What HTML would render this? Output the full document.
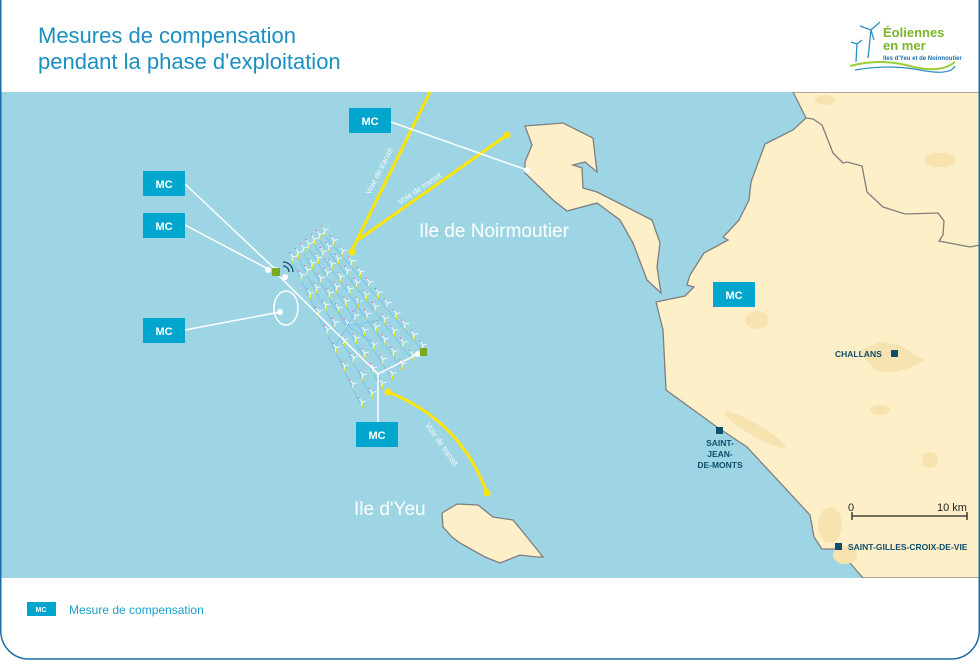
<!DOCTYPE html>
<html><head><meta charset="utf-8"><style>
body{margin:0;width:980px;height:660px;overflow:hidden;background:#fff;font-family:"Liberation Sans",sans-serif}
</style></head><body>
<svg width="980" height="660" viewBox="0 0 980 660" xmlns="http://www.w3.org/2000/svg" font-family="Liberation Sans, sans-serif">
<defs><clipPath id="c"><rect x="0" y="92" width="980" height="486"/></clipPath></defs>
<rect x="0" y="92" width="980" height="486" fill="#9dd5e5"/>
<g clip-path="url(#c)">
<path d="M793,92 L806,118 L793,130 L765,144 L751,182 L749,200 L739,220 L728,232 L723,237 L728,240 L704,253 L690,275 L687,285 L694,287 L685,296 L656,302 L663,330 L666,390 L717,427 L747,447 L810,515 L814,537 L822,549 L838,549 L863,578 L980,578 L980,92 Z" fill="#fdefc7" stroke="#7f7f7f" stroke-width="1.3"/>
<path d="M806,118 L813,119 L822,125 L833,153 L843,163 L847,162 L862,166 L867,192 L883,207 L905,214 L938,213 L944,221 L943,235 L939,241 L970,247 L980,245" fill="none" stroke="#7f7f7f" stroke-width="1.3"/>
<g fill="#f6e3b0">
<path d="M860,350 L880,342 L900,345 L915,355 L925,360 L910,368 L895,372 L880,372 L870,365 Z"/>
<ellipse cx="757" cy="320" rx="12" ry="9"/><ellipse cx="755" cy="430" rx="35" ry="6" transform="rotate(30 755 430)"/><ellipse cx="830" cy="525" rx="12" ry="18"/><ellipse cx="940" cy="160" rx="16" ry="7"/><ellipse cx="880" cy="410" rx="10" ry="5"/><ellipse cx="930" cy="460" rx="8" ry="8"/><ellipse cx="845" cy="555" rx="12" ry="9"/><ellipse cx="825" cy="100" rx="10" ry="5"/>
</g>
<path d="M525,126 L563,123 L593,138 L597,172 L585,162 L573,165 L582,168 L583,188 L597,192 L652,220 L660,243 L657,267 L661,293 L647,280 L633,243 L620,220 L597,203 L567,211 L553,200 L525,173 L525,162 L532,145 Z" fill="#fdefc7" stroke="#7f7f7f" stroke-width="1.3"/>
<path d="M442,513 L457,504 L478,505 L493,517 L513,520 L527,537 L543,557 L537,557 L520,555 L500,563 L485,557 L460,543 L452,537 L443,527 Z" fill="#fdefc7" stroke="#7f7f7f" stroke-width="1.3"/>
</g>
<g stroke="#ffe500" stroke-width="3" fill="none">
<path d="M430,92 L352,250"/><path d="M358,240 L507,135"/>
<path d="M388,392 Q460,420 487,493"/>
</g>
<g fill="#ffe500"><circle cx="352" cy="252" r="3.5"/><circle cx="507" cy="135" r="3.5"/><circle cx="388" cy="392" r="3.5"/><circle cx="487" cy="493" r="3.5"/></g>
<g fill="#fff" font-size="8" opacity="0.9">
<text transform="translate(370,195) rotate(-63)">Voie de transit</text>
<text transform="translate(400,205) rotate(-34)">Voie de transit</text>
<text transform="translate(425,425) rotate(55)">Voie de transit</text>
</g>
<g id="farm" stroke="#6cc3e6" stroke-width="0.8" fill="none"></g>
<g stroke="#fff" stroke-width="1.5" fill="none">
<path d="M276,273 L378,374 L378,422"/><path d="M378,374 L420,353"/>
<path d="M391,122 L527,170"/><path d="M185,184 L276,270"/><path d="M185,225 L270,270"/><path d="M185,330 L280,312"/>
<ellipse cx="286" cy="308" rx="12" ry="17"/>
</g>
<g fill="#fff"><circle cx="527" cy="170" r="3"/><circle cx="276" cy="270" r="3"/><circle cx="268" cy="270" r="3"/><circle cx="280" cy="312" r="3"/><circle cx="418" cy="354" r="3"/><circle cx="285" cy="277" r="3"/></g>
<rect x="272" y="268" width="8" height="8" fill="#7aa81f"/><rect x="420" y="348" width="7" height="8" fill="#7aa81f"/>
<path d="M283,266 a6,6 0 0 1 6,6 M283,262 a10,10 0 0 1 10,10" stroke="#1d4a6b" stroke-width="1.3" fill="none"/>
<g fill="#00a6cd">
<rect x="349" y="108" width="42" height="25"/><rect x="143" y="171" width="42" height="25"/><rect x="143" y="213" width="42" height="25"/><rect x="143" y="318" width="42" height="25"/><rect x="713" y="282" width="42" height="25"/><rect x="356" y="422" width="42" height="25"/>
</g>
<g fill="#fff" font-size="11" font-weight="bold" text-anchor="middle">
<text x="370" y="125">MC</text><text x="164" y="188">MC</text><text x="164" y="230">MC</text><text x="164" y="335">MC</text><text x="734" y="299">MC</text><text x="377" y="439">MC</text>
</g>
<g fill="#fff" font-size="19">
<text x="419" y="237">Ile de Noirmoutier</text><text x="354" y="515">Ile d'Yeu</text>
</g>
<g fill="#0e4d6c"><rect x="891" y="350" width="7" height="7"/><rect x="716" y="427" width="7" height="7"/><rect x="835" y="543" width="7" height="7"/></g>
<g fill="#0e4d6c" font-size="8.5" font-weight="bold">
<text x="835" y="357">CHALLANS</text>
<text x="720" y="446" text-anchor="middle">SAINT-</text><text x="720" y="457" text-anchor="middle">JEAN-</text><text x="720" y="468" text-anchor="middle">DE-MONTS</text>
<text x="848" y="550">SAINT-GILLES-CROIX-DE-VIE</text>
</g>
<g stroke="#222" stroke-width="1.3"><path d="M852,516 L967,516 M852,512 L852,520 M967,512 L967,520"/></g>
<g fill="#222" font-size="11"><text x="848" y="511">0</text><text x="937" y="511">10 km</text></g>
<g fill="#1a8fc2" font-size="22"><text x="38" y="43">Mesures de compensation</text><text x="38" y="69">pendant la phase d'exploitation</text></g>
<g stroke="#2a8fc0" stroke-width="1.3" fill="none"><path d="M868,58 L871,30 M871,30 L860,26 M871,30 L880,22 M871,30 L874,40 M856,62 L857,44 M857,44 L851,42 M857,44 L862,40"/></g>
<path d="M850,66 Q880,58 910,66 T955,62" stroke="#9ccc3a" stroke-width="2" fill="none"/>
<path d="M855,70 Q890,64 920,70 T955,66" stroke="#2a8fc0" stroke-width="1.3" fill="none"/>
<g fill="#7ab52a" font-size="13" font-weight="bold"><text x="883" y="37">Éoliennes</text><text x="883" y="50">en mer</text></g>
<text x="883" y="60" font-size="6" fill="#1a6fae" font-weight="bold">Iles d'Yeu et de Noirmoutier</text>
<rect x="27" y="602" width="29" height="14" fill="#00a6cd"/>
<text x="41" y="612" font-size="7" fill="#fff" font-weight="bold" text-anchor="middle">MC</text>
<text x="69" y="614" font-size="12" fill="#1aa0cc">Mesure de compensation</text>
<rect x="0.75" y="-30" width="978.5" height="689" rx="28" fill="none" stroke="#1a6fa8" stroke-width="1.5"/>
</svg>
<script>
var g=document.getElementById('farm'),out='';
function L(a,b,t){return [a[0]+(b[0]-a[0])*t,a[1]+(b[1]-a[1])*t];}
for(var i=0;i<7;i++){var t=i/6,s=L([325,230],[293,257],t),e=L([423,345],[362,402],t);
out+='<path d="M'+s[0]+','+(s[1]+6)+' L'+e[0]+','+(e[1]+6)+'"/>';
var n=12-Math.round(i*0.5);
for(var j=0;j<n;j++){var p=L(s,e,j/(n-1));var x=p[0],y=p[1];
out+='<g transform="translate('+x+','+y+')"><path d="M0,0 L0,6" stroke="#e8e000" stroke-width="1.2"/><path d="M0,0 L-3,-4 M0,0 L4,-1 M0,0 L-1,4" stroke="#fff" stroke-width="0.9"/><circle cx="-3" cy="-4" r="0.7" fill="#e060a0" stroke="none"/></g>';}}
out+='<path d="M348,326 L330,300 M348,326 L380,320 M348,326 L360,300 M348,326 L335,345 M348,326 L372,342"/>';
g.innerHTML=out;
</script>
</body></html>
